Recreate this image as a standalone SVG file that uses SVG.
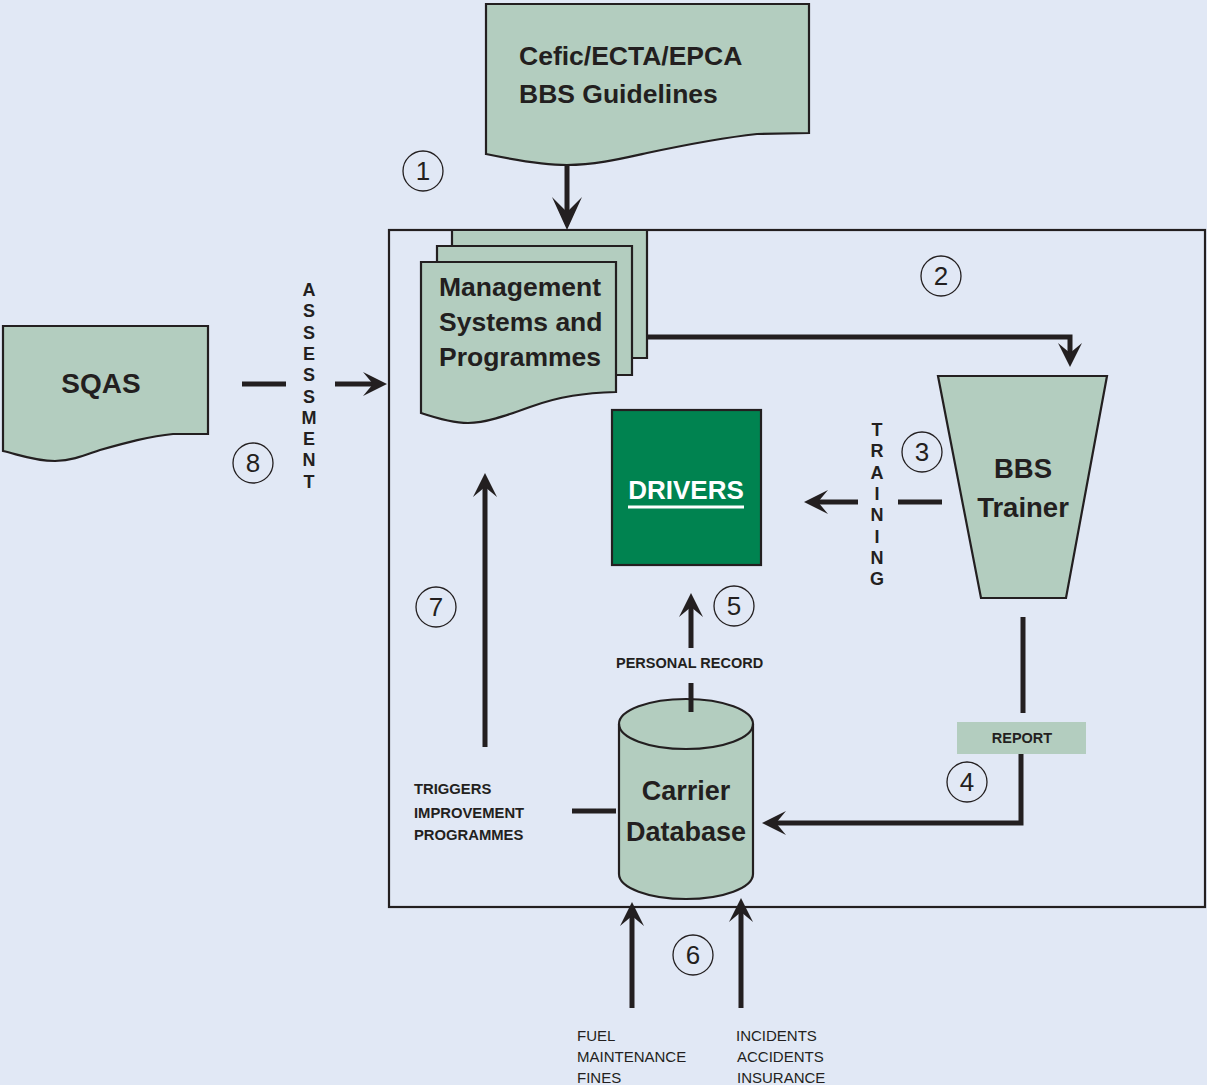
<svg xmlns="http://www.w3.org/2000/svg" width="1207" height="1085" viewBox="0 0 1207 1085">
<style>
.bg{fill:#e1e8f5}
.shape{fill:#b3cdbf;stroke:#231f20;stroke-width:2.2;stroke-linejoin:miter}
.lbl{font-family:"Liberation Sans",Arial,sans-serif;font-weight:bold;fill:#231f20}
.big{font-size:26.5px}
.sm{font-size:14.8px}
.reg{font-family:"Liberation Sans",Arial,sans-serif;font-size:15px;fill:#231f20}
.vert{font-family:"Liberation Sans",Arial,sans-serif;font-weight:bold;font-size:18px;fill:#231f20;text-anchor:middle}
.num circle{fill:none;stroke:#231f20;stroke-width:1.3}
.num text{font-family:"Liberation Sans",Arial,sans-serif;font-size:26px;fill:#231f20;text-anchor:middle}
.ln{fill:none;stroke:#231f20;stroke-width:5;stroke-linecap:butt}
</style>
<defs>
<marker id="ah" markerUnits="userSpaceOnUse" markerWidth="40" markerHeight="40" refX="4" refY="0" orient="auto" overflow="visible">
<path d="M14,0 L-10,12 L0,0 L-10,-12 Z" fill="#231f20"/>
</marker>
<marker id="ahb" markerUnits="userSpaceOnUse" markerWidth="50" markerHeight="50" refX="4" refY="0" orient="auto" overflow="visible">
<path d="M18,0 L-15,15 L0,0 L-15,-15 Z" fill="#231f20"/>
</marker>
</defs>
<rect class="bg" x="0" y="0" width="1207" height="1085"/>
<rect id="frame" x="389" y="230" width="816" height="677" fill="none" stroke="#231f20" stroke-width="2.2"/>

<g id="cefic">
<path class="shape" d="M486,4 H809 V133 L757,134 C720,138 680,146 647,153 C620,159 595,165 567,165 C540,165 510,159 486,154 Z"/>
<text class="lbl big" x="519" y="65">Cefic/ECTA/EPCA</text>
<text class="lbl big" x="519" y="103">BBS Guidelines</text>
</g>

<g id="management">
<path class="shape" d="M452,230 H647 V358 H452 Z"/>
<path class="shape" d="M437,246 H632 V375 H437 Z"/>
<path class="shape" d="M421,262 H616 V392 C585,393 560,396 530,407 C505,416 485,423 468,423 C452,423 436,418 421,413 Z"/>
<text class="lbl big" x="439" y="296">Management</text>
<text class="lbl big" x="439" y="331">Systems and</text>
<text class="lbl big" x="439" y="366">Programmes</text>
</g>

<g id="sqas">
<path class="shape" d="M3,326 H208 V434 L173,434 C150,436 125,443 100,450 C85,455 75,460 55,461 C35,461 20,455 3,451 Z"/>
<text class="lbl" x="101" y="393" font-size="28" text-anchor="middle">SQAS</text>
</g>

<g id="bbs-trainer">
<path class="shape" d="M938,376 H1107 L1066,598 H981 Z"/>
<text class="lbl" x="1023" y="478" font-size="27.5" text-anchor="middle">BBS</text>
<text class="lbl" x="1023" y="517" font-size="27.5" text-anchor="middle">Trainer</text>
</g>

<g id="drivers">
<rect x="612" y="410" width="149" height="155" fill="#008350" stroke="#231f20" stroke-width="2.2"/>
<text x="686" y="499" font-family="Liberation Sans, Arial, sans-serif" font-weight="bold" font-size="26" fill="#ffffff" text-anchor="middle">DRIVERS</text>
<rect x="628" y="505.5" width="116" height="3" fill="#ffffff"/>
</g>

<g id="carrier-database">
<path class="shape" d="M619,724 V874 A67,25 0 0 0 753,874 V724 A67,25 0 0 0 619,724 Z"/>
<path d="M619,724 A67,25 0 0 0 753,724" fill="none" stroke="#231f20" stroke-width="2.2"/>
<text class="lbl" x="686" y="800" font-size="27" text-anchor="middle">Carrier</text>
<text class="lbl" x="686" y="841" font-size="27" text-anchor="middle">Database</text>
</g>

<g id="report">
<rect x="957" y="722" width="129" height="32" fill="#b3cdbf"/>
<text class="lbl" x="1022" y="743" font-size="14.5" text-anchor="middle">REPORT</text>
</g>

<g id="connectors">
<path class="ln" stroke-width="6" d="M567,165 V216" marker-end="url(#ahb)"/>
<path class="ln" d="M648,337 H1070 V357" marker-end="url(#ah)"/>
<path class="ln" d="M242,384 H286"/>
<path class="ln" d="M335,384 H377" marker-end="url(#ah)"/>
<path class="ln" d="M942,502 H898"/>
<path class="ln" d="M858,502 H814" marker-end="url(#ah)"/>
<path class="ln" d="M1023,617 V713"/>
<path class="ln" d="M1021,754 V823 H772" marker-end="url(#ah)"/>
<path class="ln" d="M691,648 V603" marker-end="url(#ah)"/>
<path class="ln" d="M691,683 V712"/>
<path class="ln" d="M632,1008 V912" marker-end="url(#ah)"/>
<path class="ln" d="M741,1008 V908" marker-end="url(#ah)"/>
<path class="ln" d="M485,747 V483" marker-end="url(#ah)"/>
<path class="ln" d="M572,811 H616"/>
</g>

<g id="labels">
<text class="vert" x="309"><tspan x="309" y="296">A</tspan><tspan x="309" y="317.3">S</tspan><tspan x="309" y="338.6">S</tspan><tspan x="309" y="359.9">E</tspan><tspan x="309" y="381.2">S</tspan><tspan x="309" y="402.5">S</tspan><tspan x="309" y="423.8">M</tspan><tspan x="309" y="445.1">E</tspan><tspan x="309" y="466.4">N</tspan><tspan x="309" y="487.7">T</tspan></text>
<text class="vert" x="877"><tspan x="877" y="436">T</tspan><tspan x="877" y="457.3">R</tspan><tspan x="877" y="478.6">A</tspan><tspan x="877" y="499.9">I</tspan><tspan x="877" y="521.2">N</tspan><tspan x="877" y="542.5">I</tspan><tspan x="877" y="563.8">N</tspan><tspan x="877" y="585">G</tspan></text>
<text class="lbl" x="616" y="668" font-size="14.5">PERSONAL RECORD</text>
<text class="lbl sm" x="414" y="794">TRIGGERS</text>
<text class="lbl sm" x="414" y="818">IMPROVEMENT</text>
<text class="lbl sm" x="414" y="840">PROGRAMMES</text>
<text class="reg" x="577" y="1041">FUEL</text>
<text class="reg" x="577" y="1062">MAINTENANCE</text>
<text class="reg" x="577" y="1083">FINES</text>
<text class="reg" x="736" y="1041">INCIDENTS</text>
<text class="reg" x="737" y="1062">ACCIDENTS</text>
<text class="reg" x="737" y="1083">INSURANCE</text>
</g>

<g id="numbers" class="num">
<g><circle cx="423" cy="171" r="20"/><text x="423" y="180">1</text></g>
<g><circle cx="941" cy="276" r="20"/><text x="941" y="285">2</text></g>
<g><circle cx="922" cy="452" r="20"/><text x="922" y="461">3</text></g>
<g><circle cx="967" cy="782" r="20"/><text x="967" y="791">4</text></g>
<g><circle cx="734" cy="606" r="20"/><text x="734" y="615">5</text></g>
<g><circle cx="693" cy="955" r="20"/><text x="693" y="964">6</text></g>
<g><circle cx="436" cy="607" r="20"/><text x="436" y="616">7</text></g>
<g><circle cx="253" cy="463" r="20"/><text x="253" y="472">8</text></g>
</g>
</svg>
